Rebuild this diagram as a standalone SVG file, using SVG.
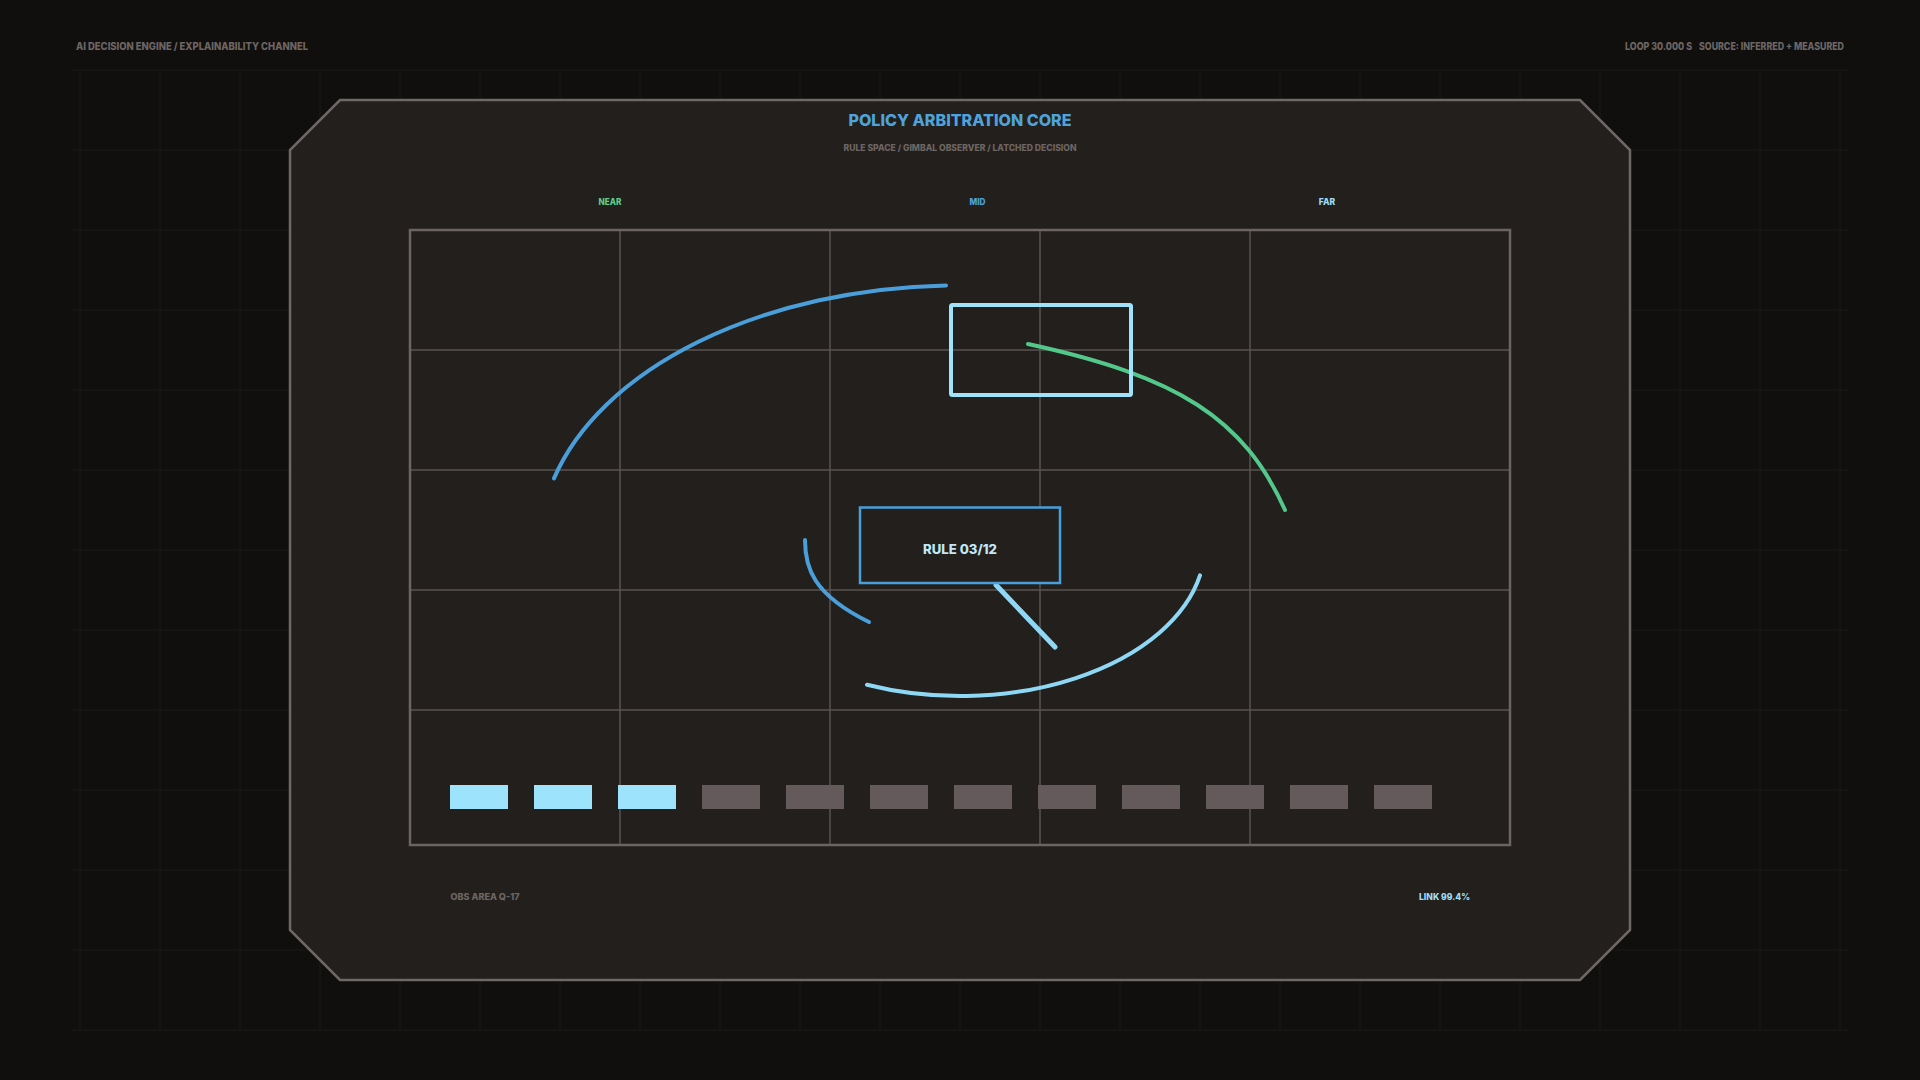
<svg xmlns="http://www.w3.org/2000/svg" width="1920" height="1080" viewBox="0 0 1920 1080">
  <defs>
    <style>
      .bggrid { stroke: #1c1a19; stroke-width: 1; fill: none; }
      .cell { stroke: #5a5350; stroke-width: 1.5; fill: none; }
      .t { font-family: Inter, "Liberation Sans", sans-serif; font-weight: 800; }
      .gray { fill: #6d6663; }
      .arc { fill: none; stroke-linecap: round; stroke-width: 4; }
      .bar-on { fill: #9de3fc; }
      .bar-off { fill: #645a5c; }
    </style>
  </defs>
  <rect x="0" y="0" width="1920" height="1080" fill="#110f0e"/>
  <g id="background-grid" class="bggrid">
    <path d="M80 70V1030M160 70V1030M240 70V1030M320 70V1030M400 70V1030M480 70V1030M560 70V1030M640 70V1030M720 70V1030M800 70V1030M880 70V1030M960 70V1030M1040 70V1030M1120 70V1030M1200 70V1030M1280 70V1030M1360 70V1030M1440 70V1030M1520 70V1030M1600 70V1030M1680 70V1030M1760 70V1030M1840 70V1030"/>
    <path d="M72 70H1848M72 150H1848M72 230H1848M72 310H1848M72 390H1848M72 470H1848M72 550H1848M72 630H1848M72 710H1848M72 790H1848M72 870H1848M72 950H1848M72 1030H1848"/>
  </g>
  <g id="header">
    <text class="t gray" x="76" y="50" font-size="10" textLength="232" lengthAdjust="spacingAndGlyphs">AI DECISION ENGINE / EXPLAINABILITY CHANNEL</text>
    <text class="t gray" y="50" font-size="10"><tspan x="1625" textLength="67" lengthAdjust="spacingAndGlyphs">LOOP 30.000 S</tspan><tspan x="1699" textLength="145" lengthAdjust="spacingAndGlyphs">SOURCE: INFERRED + MEASURED</tspan></text>
  </g>
  <g id="panel">
    <polygon points="340,100 1580,100 1630,150 1630,930 1580,980 340,980 290,930 290,150" fill="#221f1c" stroke="#6e6866" stroke-width="2.5"/>
    <text class="t" x="960" y="126" font-size="16" font-weight="900" fill="#4fa3dd" text-anchor="middle" textLength="223" lengthAdjust="spacingAndGlyphs">POLICY ARBITRATION CORE</text>
    <text class="t gray" x="960" y="151" font-size="8.5" text-anchor="middle" textLength="233" lengthAdjust="spacingAndGlyphs">RULE SPACE / GIMBAL OBSERVER / LATCHED DECISION</text>
    <text class="t" x="610" y="205" font-size="8.5" fill="#5ccf8a" text-anchor="middle" textLength="23" lengthAdjust="spacingAndGlyphs">NEAR</text>
    <text class="t" x="977.5" y="205" font-size="8.5" fill="#4fa3dd" text-anchor="middle" textLength="16" lengthAdjust="spacingAndGlyphs">MID</text>
    <text class="t" x="1327" y="205" font-size="8.5" fill="#9fdcf5" text-anchor="middle" textLength="16.5" lengthAdjust="spacingAndGlyphs">FAR</text>
    <text class="t gray" x="450.5" y="900" font-size="8.5" textLength="69" lengthAdjust="spacingAndGlyphs">OBS AREA Q-17</text>
    <text class="t" x="1470" y="900" font-size="8.5" fill="#9fdcf5" text-anchor="end" textLength="51" lengthAdjust="spacingAndGlyphs">LINK 99.4%</text>
  </g>
  <g id="rule-grid">
    <path class="cell" d="M620 230V845M830 230V845M1040 230V845M1250 230V845M410 350H1510M410 470H1510M410 590H1510M410 710H1510"/>
    <rect x="410" y="230" width="1100" height="615" fill="none" stroke="#6b6462" stroke-width="2.5"/>
  </g>
  <g id="connectors">
    <path id="ring-outer" class="arc" stroke="#4a9fdb" d="M554 478.4 A420 260 0 0 1 946 285.4"/>
    <path id="ring-green" class="arc" stroke="#52c98a" stroke-width="4.5" d="M1028 344 C1178.8 376.6 1243.8 418.6 1285 510"/>
    <path id="ring-inner" class="arc" stroke="#4a9fdb" d="M805 540 C805 566.6 812 594 869 622"/>
    <path id="ring-bottom" class="arc" stroke="#8fd8f5" d="M867 684.7 A245 151 0 0 0 1200 575.4"/>
    <line id="latch" x1="996" y1="585" x2="1055" y2="647" stroke="#8fd8f5" stroke-width="5" stroke-linecap="round"/>
  </g>
  <g id="node-observer">
    <rect x="951" y="305" width="180" height="90" rx="1.5" fill="none" stroke="#9fe2fa" stroke-width="4"/>
  </g>
  <g id="node-rule">
    <rect x="860" y="507.5" width="200" height="75.5" fill="#221f1c" stroke="#4a9fdb" stroke-width="2.5"/>
    <text class="t" x="960" y="554" font-size="13" fill="#bfe7f7" text-anchor="middle" textLength="74" lengthAdjust="spacingAndGlyphs">RULE 03/12</text>
  </g>
  <g id="rule-bars">
    <rect class="bar-on" x="450" y="785" width="58" height="24"/>
    <rect class="bar-on" x="534" y="785" width="58" height="24"/>
    <rect class="bar-on" x="618" y="785" width="58" height="24"/>
    <rect class="bar-off" x="702" y="785" width="58" height="24"/>
    <rect class="bar-off" x="786" y="785" width="58" height="24"/>
    <rect class="bar-off" x="870" y="785" width="58" height="24"/>
    <rect class="bar-off" x="954" y="785" width="58" height="24"/>
    <rect class="bar-off" x="1038" y="785" width="58" height="24"/>
    <rect class="bar-off" x="1122" y="785" width="58" height="24"/>
    <rect class="bar-off" x="1206" y="785" width="58" height="24"/>
    <rect class="bar-off" x="1290" y="785" width="58" height="24"/>
    <rect class="bar-off" x="1374" y="785" width="58" height="24"/>
  </g>
</svg>
